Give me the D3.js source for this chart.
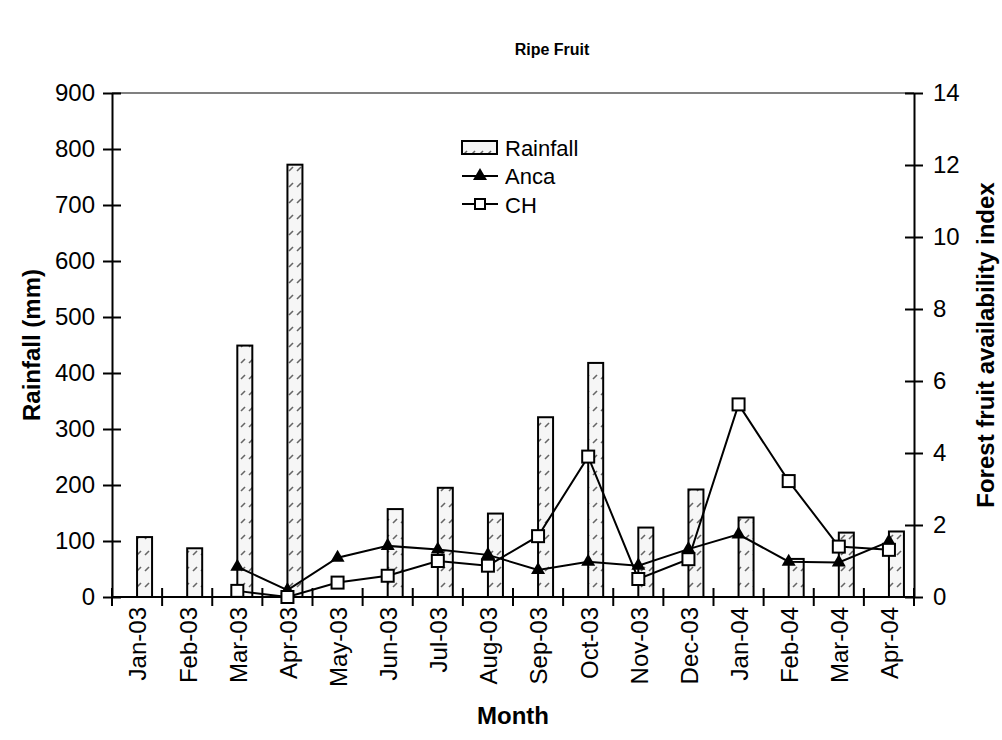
<!DOCTYPE html>
<html>
<head>
<meta charset="utf-8">
<script src="https://cdn.jsdelivr.net/npm/d3@7"></script>
<style>
  body { margin: 0; background: #fff; }
  svg text { font-family: "Liberation Sans", Arial, sans-serif; }
</style>
</head>
<body>
<div id="chart"></div>
<script>
const months = ["Jan-03", "Feb-03", "Mar-03", "Apr-03", "May-03", "Jun-03", "Jul-03", "Aug-03",
                "Sep-03", "Oct-03", "Nov-03", "Dec-03", "Jan-04", "Feb-04", "Mar-04", "Apr-04"];
const rainfall = [107, 87, 449, 772, null, 157, 195, 149, 321, 418, 124, 192, 142, 68, 115, 117];
const anca = [null, null, 0.84, 0.19, 1.09, 1.42, 1.32, 1.17, 0.75, 0.98, 0.87, 1.33, 1.74, 0.98, 0.96, 1.54];
const ch = [null, null, 0.17, 0.0, 0.4, 0.59, 1.0, 0.87, 1.69, 3.9, 0.5, 1.05, 5.35, 3.22, 1.40, 1.31];
const leftTicks = [0, 100, 200, 300, 400, 500, 600, 700, 800, 900];
const rightTicks = [0, 2, 4, 6, 8, 10, 12, 14];

const W = 1002, H = 740;
const plotL = 112, plotR = 914, plotT = 93, plotB = 597;
const FONT = "'Liberation Sans', Arial, sans-serif";

const svg = d3.select("#chart").append("svg")
    .attr("width", W)
    .attr("height", H)
    .attr("font-family", FONT);

// hatch pattern for rainfall bars
const defs = svg.append("defs");
const pat = defs.append("pattern")
    .attr("id", "hatch")
    .attr("patternUnits", "userSpaceOnUse")
    .attr("width", 8)
    .attr("height", 16);
pat.append("rect").attr("width", 8).attr("height", 16).attr("fill", "#f6f6f6");
pat.append("line")
    .attr("x1", 1).attr("y1", 11).attr("x2", 5).attr("y2", 7)
    .attr("stroke", "#666").attr("stroke-width", 1.6);

const x = d3.scaleBand()
    .domain(months)
    .range([plotL, plotR]);

const y = d3.scaleLinear()
    .domain([0, 900])
    .range([plotB, plotT]);

const y2 = d3.scaleLinear()
    .domain([0, 14])
    .range([plotB, plotT]);

const cx = d => x(d) + x.bandwidth() / 2;
const barW = 15;

// top border of plot area
svg.append("line")
    .attr("x1", plotL).attr("x2", plotR)
    .attr("y1", plotT).attr("y2", plotT)
    .attr("stroke", "#808080").attr("stroke-width", 2);

// bars
const barData = months.map((m, i) => ({ m: m, v: rainfall[i] })).filter(d => d.v !== null);
svg.selectAll(".bar")
    .data(barData)
    .enter().append("rect")
    .attr("class", "bar")
    .attr("x", d => cx(d.m))
    .attr("y", d => y(d.v))
    .attr("width", barW)
    .attr("height", d => y(0) - y(d.v))
    .attr("fill", "url(#hatch)")
    .attr("stroke", "#000")
    .attr("stroke-width", 2);

// axes
const leftAxis = d3.axisLeft(y).tickValues(leftTicks).tickSizeInner(9).tickSizeOuter(0).tickPadding(8);
const gl = svg.append("g").attr("transform", `translate(${plotL},0)`).call(leftAxis);

const rightAxis = d3.axisRight(y2).tickValues(rightTicks).tickSizeInner(9).tickSizeOuter(0).tickPadding(10);
const gr = svg.append("g").attr("transform", `translate(${plotR},0)`).call(rightAxis);

[gl, gr].forEach(g => {
    g.attr("font-family", FONT).attr("font-size", 24);
    g.select(".domain").attr("stroke", "#000").attr("stroke-width", 2);
    g.selectAll(".tick line").attr("stroke", "#000").attr("stroke-width", 2);
    g.selectAll(".tick text").attr("fill", "#000");
});
// cross ticks on inside
gl.selectAll(".tick line").attr("x1", 9).attr("x2", -9);
gr.selectAll(".tick line").attr("x1", -9).attr("x2", 9);

// x axis
svg.append("line")
    .attr("x1", plotL).attr("x2", plotR)
    .attr("y1", plotB).attr("y2", plotB)
    .attr("stroke", "#000").attr("stroke-width", 2);

const bounds = months.map(m => x(m)).concat([plotR]);
svg.selectAll(".xtick")
    .data(bounds)
    .enter().append("line")
    .attr("class", "xtick")
    .attr("x1", d => d).attr("x2", d => d)
    .attr("y1", plotB - 9).attr("y2", plotB + 9)
    .attr("stroke", "#000").attr("stroke-width", 2);

svg.selectAll(".xlabel")
    .data(months)
    .enter().append("text")
    .attr("class", "xlabel")
    .attr("transform", d => `translate(${cx(d) + 1},${plotB + 10}) rotate(-90)`)
    .attr("text-anchor", "end")
    .attr("dy", "0.35em")
    .attr("font-size", 24)
    .text(d => d);

// lines
const line = d3.line()
    .defined(d => d.v !== null)
    .x(d => cx(d.m))
    .y(d => y2(d.v));

const ancaData = months.map((m, i) => ({ m: m, v: anca[i] }));
const chData = months.map((m, i) => ({ m: m, v: ch[i] }));

svg.append("path")
    .datum(ancaData)
    .attr("d", line)
    .attr("fill", "none")
    .attr("stroke", "#000")
    .attr("stroke-width", 2);

svg.append("path")
    .datum(chData)
    .attr("d", line)
    .attr("fill", "none")
    .attr("stroke", "#000")
    .attr("stroke-width", 2);

const tri = d3.symbol().type(d3.symbolTriangle).size(85);
svg.selectAll(".tri")
    .data(ancaData.filter(d => d.v !== null))
    .enter().append("path")
    .attr("class", "tri")
    .attr("d", tri)
    .attr("transform", d => `translate(${cx(d.m)},${y2(d.v)})`)
    .attr("fill", "#000");

svg.selectAll(".sq")
    .data(chData.filter(d => d.v !== null))
    .enter().append("rect")
    .attr("class", "sq")
    .attr("x", d => cx(d.m) - 6)
    .attr("y", d => y2(d.v) - 6)
    .attr("width", 12)
    .attr("height", 12)
    .attr("fill", "#fff")
    .attr("stroke", "#000")
    .attr("stroke-width", 2);

// legend
const lg = svg.append("g").attr("transform", "translate(462,0)");
lg.append("rect")
    .attr("x", 0).attr("y", 141).attr("width", 35).attr("height", 13)
    .attr("fill", "url(#hatch)").attr("stroke", "#000").attr("stroke-width", 2);
lg.append("line").attr("x1", 0).attr("x2", 36).attr("y1", 176).attr("y2", 176)
    .attr("stroke", "#000").attr("stroke-width", 2);
lg.append("path").attr("d", tri).attr("transform", "translate(18,176)").attr("fill", "#000");
lg.append("line").attr("x1", 0).attr("x2", 36).attr("y1", 204).attr("y2", 204)
    .attr("stroke", "#000").attr("stroke-width", 2);
lg.append("rect").attr("x", 13).attr("y", 199).attr("width", 10).attr("height", 10)
    .attr("fill", "#fff").attr("stroke", "#000").attr("stroke-width", 2);
const legendNames = ["Rainfall", "Anca", "CH"];
lg.selectAll(".lt")
    .data(legendNames)
    .enter().append("text")
    .attr("class", "lt")
    .attr("x", 43)
    .attr("y", (d, i) => 148 + i * 28.5)
    .attr("dy", "0.35em")
    .attr("font-size", 22)
    .text(d => d);

// titles
svg.append("text")
    .attr("x", 552).attr("y", 55)
    .attr("text-anchor", "middle")
    .attr("font-size", 16).attr("font-weight", "bold")
    .text("Ripe Fruit");

svg.append("text")
    .attr("x", (plotL + plotR) / 2).attr("y", 724)
    .attr("text-anchor", "middle")
    .attr("font-size", 24).attr("font-weight", "bold")
    .text("Month");

svg.append("text")
    .attr("transform", `translate(40,${(plotT + plotB) / 2}) rotate(-90)`)
    .attr("text-anchor", "middle")
    .attr("font-size", 24).attr("font-weight", "bold")
    .text("Rainfall (mm)");

svg.append("text")
    .attr("transform", `translate(994,${(plotT + plotB) / 2}) rotate(-90)`)
    .attr("text-anchor", "middle")
    .attr("font-size", 24).attr("font-weight", "bold")
    .text("Forest fruit availability index");
</script>
</body>
</html>
